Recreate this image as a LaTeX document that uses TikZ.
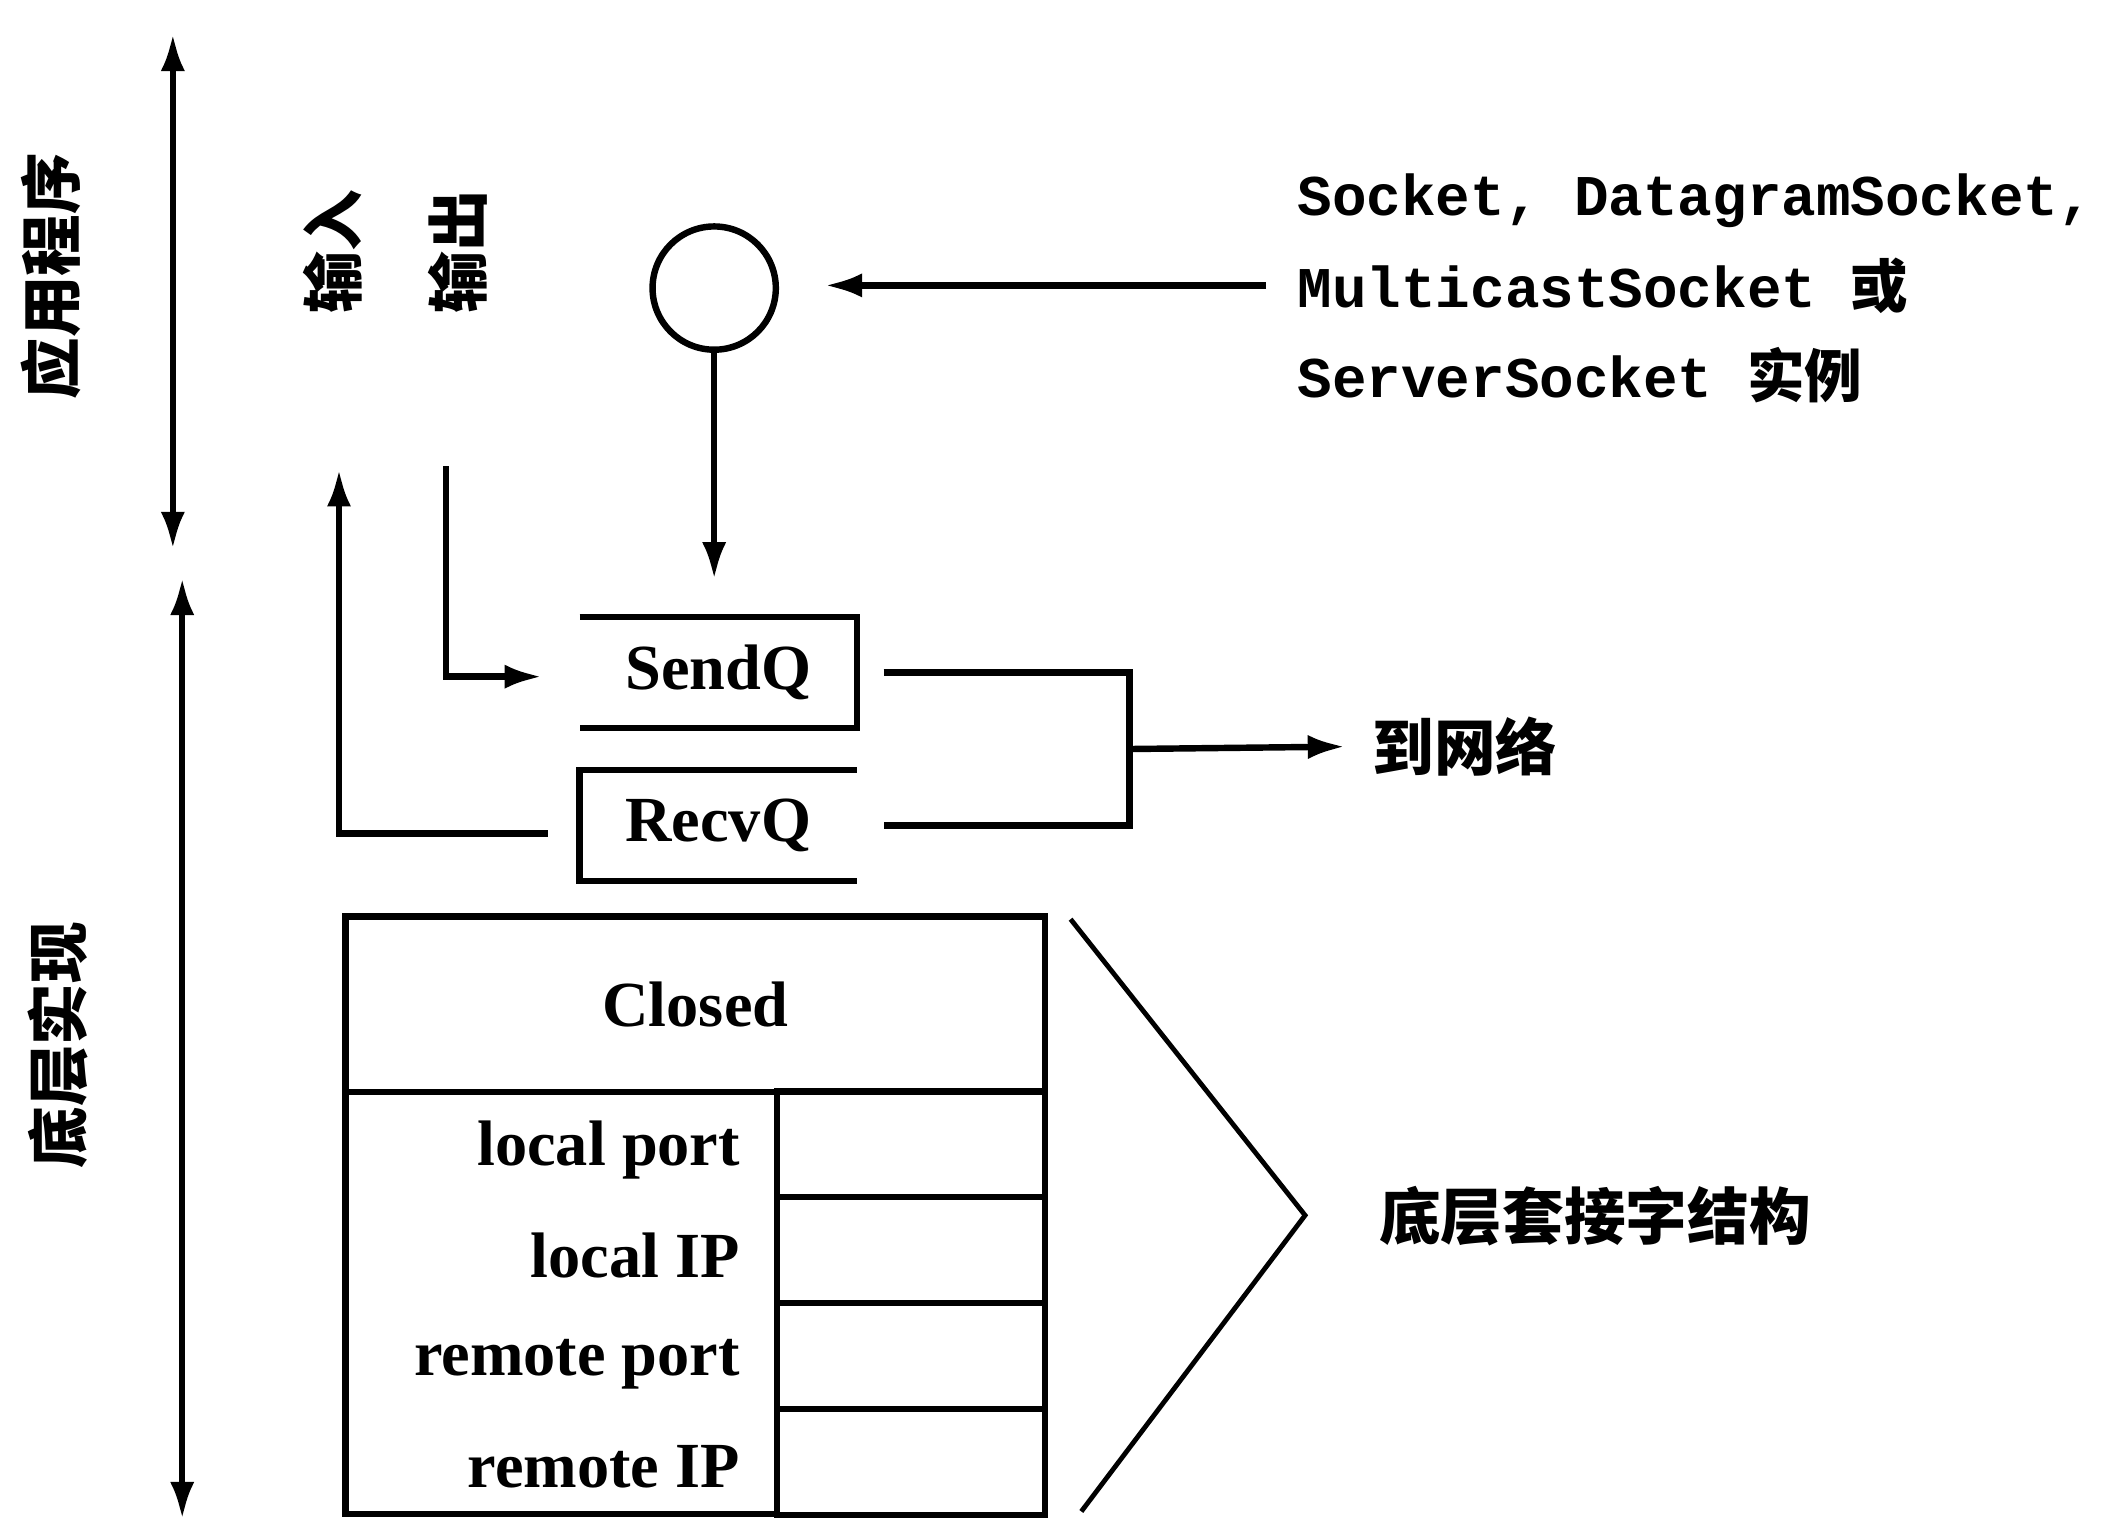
\documentclass[tikz,border=0pt]{standalone}
\usepackage{fontspec}
\setmainfont{Liberation Serif}
\newfontfamily\cjk{Noto Sans CJK SC}
\newfontfamily\mono{Liberation Mono}
\usetikzlibrary{arrows.meta}
\begin{document}
\begin{tikzpicture}[x=0.5pt,y=-0.5pt,line width=2.4pt,
  >={Latex[length=14pt,width=9pt]},
  lbl/.style={font=\fontsize{24}{28}\selectfont\bfseries,inner sep=0pt},
  zh/.style={font=\fontsize{23}{27}\selectfont\cjk\bfseries,inner sep=0pt},
  desc/.style={font=\fontsize{21.5}{25}\selectfont\mono\bfseries,inner sep=0pt,anchor=west},
  qbox/.style={lbl,minimum width=101pt,minimum height=39pt},
  cell/.style={draw,minimum width=100pt,minimum height=39.5pt,inner sep=0pt},
  rowlbl/.style={lbl,anchor=east}]
\useasboundingbox (0,0) rectangle (1568,1134);

% left scale arrows and labels
\coordinate (a1t) at (129,25);
\coordinate (a1b) at (129,410);
\draw[<->] (a1t) -- (a1b);
\coordinate (a2t) at (136,431);
\coordinate (a2b) at (136,1134);
\draw[<->] (a2t) -- (a2b);
\node[zh,rotate=90] (app) at (38,206) {应用程序};
\node[zh,rotate=90] (impl) at (43,780) {底层实现};

% input / output labels
\node[zh,rotate=90] (in) at (248,188) {输入};
\node[zh,rotate=90] (out) at (342,188) {输出};

% socket instance
\node[draw,circle,minimum size=46pt,inner sep=0pt] (sock) at (533,215) {};
\node[desc] (d1) at (966,150) {Socket, DatagramSocket,};
\node[desc] (d2) at (966,213) {MulticastSocket {\cjk\bfseries 或}};
\node[desc] (d3) at (966,280) {ServerSocket {\cjk\bfseries 实例}};
\coordinate (dstart) at (945,213);
\draw[->,shorten >=17pt] (dstart) -- (sock.east |- dstart);

% queues
\node[qbox] (sendq) at (536,502) {SendQ};
\draw (sendq.north west) -- (sendq.north east) -- (sendq.south east) -- (sendq.south west);
\node[qbox] (recvq) at (536,616) {RecvQ};
\draw (recvq.north east) -- (recvq.north west) -- (recvq.south west) -- (recvq.south east);

\draw[->,shorten >=14pt] (sock.south) -- (sock.south |- sendq.north);

\coordinate (outstart) at (333,348);
\draw[->,shorten >=14pt] (outstart) |- ([yshift=-1.5pt]sendq.west);
\coordinate (inend) at (253,350);
\draw[->,shorten <=12pt] ([yshift=-3pt]recvq.west) -| (inend);

% to network
\coordinate (bx) at (843,559);
\draw ([xshift=10pt]sendq.east) -| (bx) |- ([xshift=10pt]recvq.east);
\node[zh,anchor=west] (net) at (1022,557) {到网络};
\draw[->,shorten >=9pt] (bx) -- (net.west);

% socket structure
\node[draw,lbl,minimum width=261pt,minimum height=65.5pt] (closed) at (519,749.5) {Closed};
\node[draw,minimum width=161pt,minimum height=157.5pt,inner sep=0pt] (lcol) at (419,972.5) {};
\node[cell] (v1) at (680,854) {};
\node[cell] (v2) at (680,933) {};
\node[cell] (v3) at (680,1012) {};
\node[cell] (v4) at (680,1091) {};
\node[rowlbl] (l1) at ([xshift=-11.5pt,yshift=-2pt]v1.west) {local port};
\node[rowlbl] (l2) at ([xshift=-11.5pt,yshift=-2pt]v2.west) {local IP};
\node[rowlbl] (l3) at ([xshift=-11.5pt,yshift=-3pt]v3.west) {remote port};
\node[rowlbl] (l4) at ([xshift=-11.5pt,yshift=-2pt]v4.west) {remote IP};

\coordinate (c1) at (799,686);
\coordinate (c2) at (974,907);
\coordinate (c3) at (807,1128);
\draw[line width=1.8pt] (c1) -- (c2) -- (c3);
\node[zh,anchor=west] (struct) at (1027,908) {底层套接字结构};
\end{tikzpicture}
\end{document}
